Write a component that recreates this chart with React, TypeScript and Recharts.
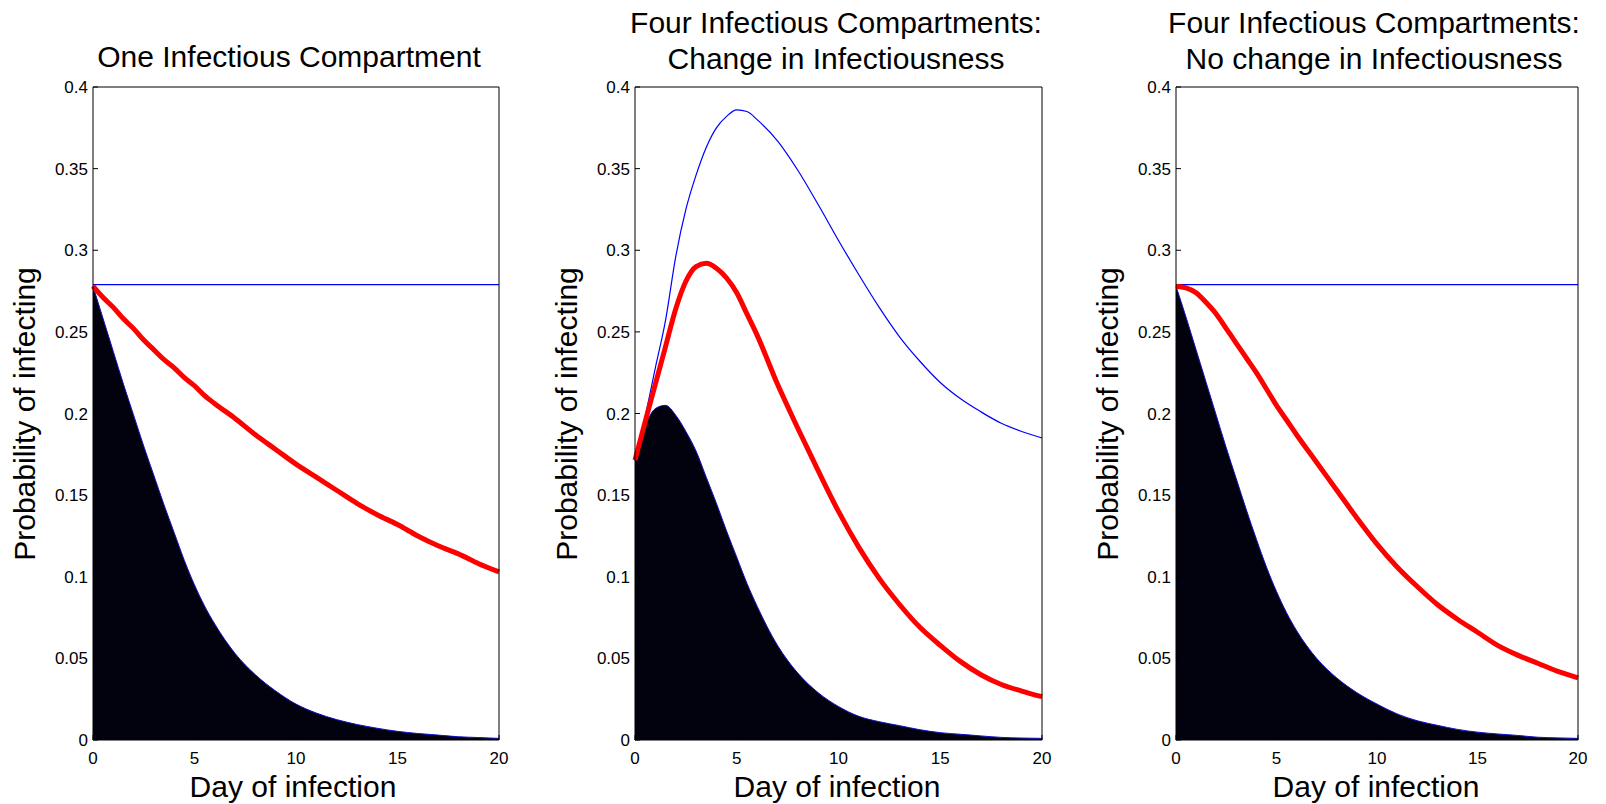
import React from 'react';
import { ComposedChart, Area, Line, XAxis, YAxis } from 'recharts';

const FONT = "'Liberation Sans', Arial, Helvetica, sans-serif";

// day of infection (sample positions)
const days = [0, 0.5, 1, 1.5, 2, 2.5, 3, 3.5, 4, 4.5, 5, 5.5, 6, 7, 8, 9, 10, 11, 12, 13, 14, 15, 16, 17, 18, 19, 20];

const xTicks = [0, 5, 10, 15, 20];
const yTicks = [0, 0.05, 0.1, 0.15, 0.2, 0.25, 0.3, 0.35, 0.4];

// Panel 1: One Infectious Compartment
const p1Black = [0.278, 0.258, 0.238, 0.218, 0.199, 0.180, 0.162, 0.144, 0.127, 0.110, 0.095, 0.082, 0.071,
  0.053, 0.040, 0.030, 0.022, 0.0165, 0.0125, 0.0095, 0.0072, 0.0053, 0.004, 0.003, 0.002, 0.0015, 0.001];
const p1Blue = [0.279, 0.279, 0.279, 0.279, 0.279, 0.279, 0.279, 0.279, 0.279, 0.279, 0.279, 0.279, 0.279,
  0.279, 0.279, 0.279, 0.279, 0.279, 0.279, 0.279, 0.279, 0.279, 0.279, 0.279, 0.279, 0.279, 0.279];
const p1Red = [0.278, 0.271, 0.265, 0.258, 0.252, 0.245, 0.239, 0.233, 0.228, 0.222, 0.217, 0.211, 0.206,
  0.197, 0.187, 0.178, 0.169, 0.161, 0.153, 0.145, 0.138, 0.132, 0.125, 0.119, 0.114, 0.108, 0.103];

// Panel 2: Four Infectious Compartments: Change in Infectiousness
const p2Black = [0.171, 0.192, 0.203, 0.205, 0.199, 0.189, 0.177, 0.161, 0.145, 0.128, 0.112, 0.096, 0.082,
  0.058, 0.041, 0.029, 0.0205, 0.0145, 0.0112, 0.0088, 0.0063, 0.0045, 0.0035, 0.0025, 0.0016, 0.0012, 0.001];
const p2Blue = [0.1715, 0.198, 0.228, 0.257, 0.296, 0.325, 0.346, 0.363, 0.375, 0.382, 0.386, 0.385, 0.380,
  0.367, 0.349, 0.328, 0.306, 0.285, 0.265, 0.247, 0.232, 0.219, 0.209, 0.201, 0.194, 0.189, 0.185];
const p2Red = [0.1715, 0.195, 0.218, 0.241, 0.264, 0.281, 0.290, 0.292, 0.289, 0.283, 0.274, 0.261, 0.248,
  0.218, 0.191, 0.165, 0.140, 0.118, 0.099, 0.083, 0.069, 0.058, 0.048, 0.040, 0.034, 0.030, 0.0265];

// Panel 3: Four Infectious Compartments: No change in Infectiousness
const p3Black = [0.278, 0.259, 0.239, 0.219, 0.199, 0.179, 0.160, 0.141, 0.123, 0.106, 0.091, 0.078, 0.067,
  0.050, 0.038, 0.029, 0.022, 0.016, 0.0118, 0.009, 0.0065, 0.0048, 0.0037, 0.0028, 0.0017, 0.0013, 0.001];
const p3Blue = [0.279, 0.279, 0.279, 0.279, 0.279, 0.279, 0.279, 0.279, 0.279, 0.279, 0.279, 0.279, 0.279,
  0.279, 0.279, 0.279, 0.279, 0.279, 0.279, 0.279, 0.279, 0.279, 0.279, 0.279, 0.279, 0.279, 0.279];
const p3Red = [0.278, 0.277, 0.274, 0.268, 0.261, 0.252, 0.243, 0.234, 0.225, 0.215, 0.205, 0.196, 0.187,
  0.170, 0.153, 0.136, 0.120, 0.106, 0.094, 0.083, 0.074, 0.066, 0.058, 0.052, 0.047, 0.042, 0.038];

const titles = [
  ['One Infectious Compartment'],
  ['Four Infectious Compartments:', 'Change in Infectiousness'],
  ['Four Infectious Compartments:', 'No change in Infectiousness'],
];
const xLabel = 'Day of infection';
const yLabel = 'Probability of infecting';

const build = (black: number[], blue: number[], red: number[]) =>
  days.map((d, i) => ({ day: d, black: black[i], blue: blue[i], red: red[i] }));

const panels = [
  { data: build(p1Black, p1Blue, p1Red), plotLeft: 93, plotW: 406, titleX: 289, titleY: [67], xLabX: 293 },
  { data: build(p2Black, p2Blue, p2Red), plotLeft: 635, plotW: 407, titleX: 836, titleY: [33, 68.5], xLabX: 837 },
  { data: build(p3Black, p3Blue, p3Red), plotLeft: 1176, plotW: 402, titleX: 1374, titleY: [33, 68.5], xLabX: 1376 },
];

const Y_W = 93;
const RIGHT_M = 9;
const H = 804;
const TOP = 86;
const X_H = 64;

function Panel({ p }: { p: typeof panels[number] }) {
  const width = Y_W + p.plotW + 1 + RIGHT_M;
  const axisStyle = { stroke: '#000', strokeWidth: 1 };
  return (
    <div style={{ position: 'absolute', left: p.plotLeft - Y_W, top: 0 }}>
      <ComposedChart width={width} height={H} data={p.data}
        margin={{ top: TOP, right: RIGHT_M, bottom: 0, left: 0 }}>
        <XAxis xAxisId="b" type="number" dataKey="day" domain={[0, 20]} ticks={xTicks} interval={0}
          tickSize={-5} tickMargin={17} height={X_H} axisLine={axisStyle} tickLine={axisStyle}
          tick={{ fill: '#000', fontSize: 17, fontFamily: FONT }} />
        <XAxis xAxisId="t" orientation="top" type="number" dataKey="day" domain={[0, 20]} ticks={xTicks}
          interval={0} tickSize={-5} height={1} axisLine={axisStyle} tickLine={axisStyle} tick={false} />
        <YAxis yAxisId="l" type="number" domain={[0, 0.4]} ticks={yTicks} interval={0} tickSize={-5}
          tickMargin={10} width={Y_W} axisLine={axisStyle} tickLine={axisStyle}
          tick={{ fill: '#000', fontSize: 17, fontFamily: FONT }} />
        <YAxis yAxisId="r" orientation="right" type="number" domain={[0, 0.4]} ticks={yTicks} interval={0}
          tickSize={-5} width={1} axisLine={axisStyle} tickLine={axisStyle} tick={false} />
        <Area xAxisId="b" yAxisId="l" type="monotone" dataKey="black" stroke="#1010c8" strokeWidth={1}
          fill="#02020e" fillOpacity={1} isAnimationActive={false} dot={false} activeDot={false} />
        <Line xAxisId="b" yAxisId="l" type="monotone" dataKey="blue" stroke="#0000ff" strokeWidth={1.2}
          dot={false} activeDot={false} isAnimationActive={false} />
        <Line xAxisId="b" yAxisId="l" type="monotone" dataKey="red" stroke="#ff0000" strokeWidth={5}
          dot={false} activeDot={false} isAnimationActive={false} />
        {/* invisible series so the top and right box axes are drawn */}
        <Line xAxisId="t" yAxisId="r" type="monotone" dataKey="blue" stroke="none" strokeOpacity={0}
          dot={false} activeDot={false} isAnimationActive={false} legendType="none" />
      </ComposedChart>
    </div>
  );
}

export default function App() {
  return (
    <div style={{ position: 'absolute', left: 0, top: 0, width: 1606, height: 804, background: '#fff', overflow: 'hidden' }}>
      {panels.map((p, i) => <Panel key={i} p={p} />)}
      <svg width={1606} height={804} style={{ position: 'absolute', left: 0, top: 0, pointerEvents: 'none' }}>
        {panels.map((p, i) => (
          <g key={i} fontFamily={FONT} fontSize={30} fill="#000">
            {titles[i].map((t, j) => (
              <text key={j} x={p.titleX} y={p.titleY[j]} textAnchor="middle">{t}</text>
            ))}
            <text x={p.xLabX} y={797} textAnchor="middle">{xLabel}</text>
            <text x={p.plotLeft - 58} y={414} textAnchor="middle"
              transform={`rotate(-90, ${p.plotLeft - 58}, 414)`}>{yLabel}</text>
          </g>
        ))}
      </svg>
    </div>
  );
}
